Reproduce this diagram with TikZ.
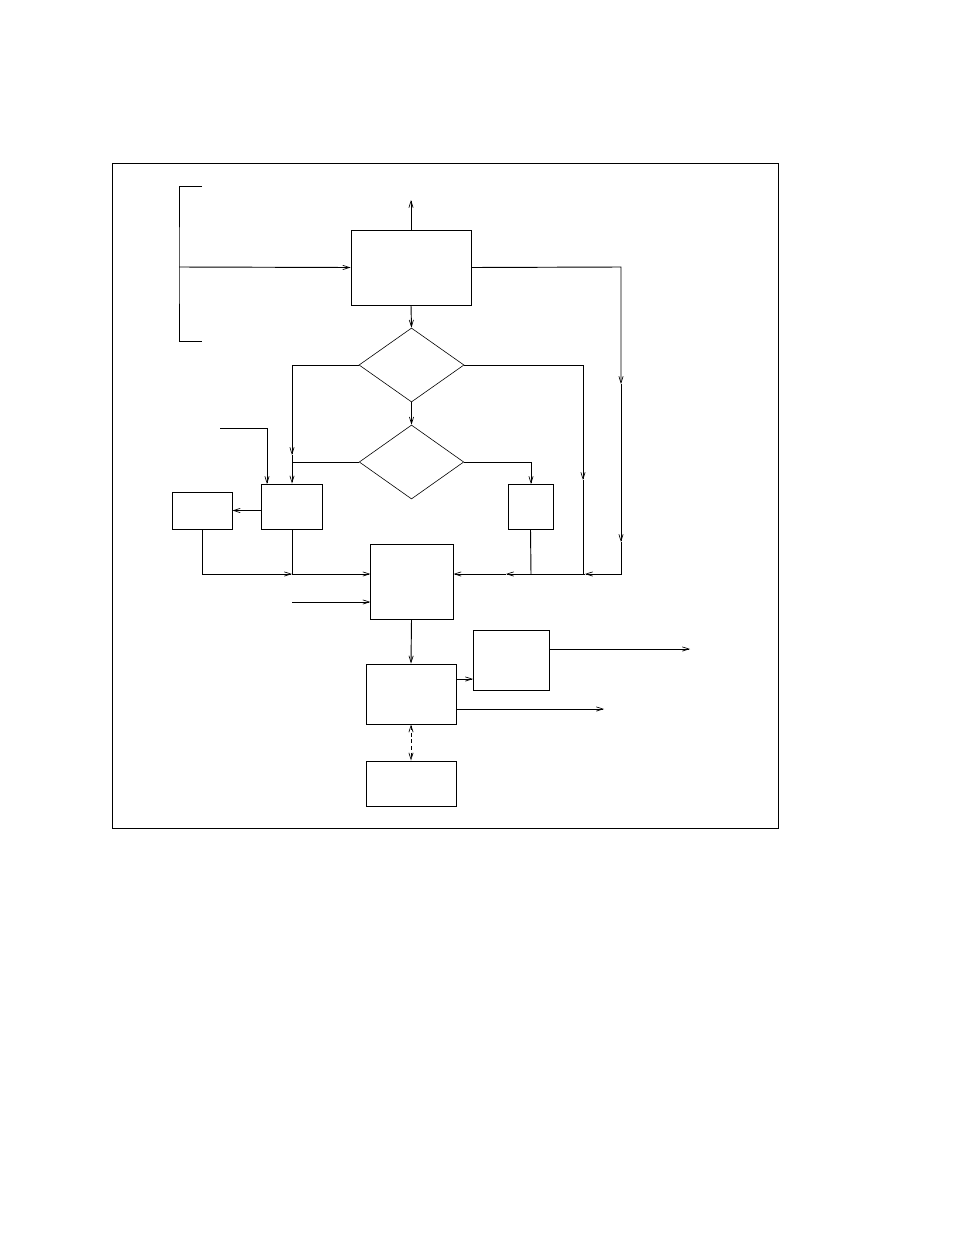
\documentclass[tikz,border=0pt]{standalone}
\usetikzlibrary{arrows.meta,shapes.geometric}
\begin{document}
\begin{tikzpicture}[x=0.75pt,y=-0.75pt,
  line width=0.7pt,
  >={Straight Barb[length=5pt,width=3.2pt,line width=0.5pt]},
  blk/.style={draw,rectangle,inner sep=0pt},
  dia/.style={draw,diamond,inner sep=0pt,line width=0.45pt}]
\useasboundingbox (0,0) rectangle (954,1235);
% frame
\draw[line width=0.6pt] (112,163) rectangle (778,828);
% nodes
\node[blk,minimum width=90pt,minimum height=56.25pt] (A) at (411,267.5) {};
\node[dia,minimum width=78.75pt,minimum height=55.5pt] (D1) at (411.5,365) {};
\node[dia,minimum width=78.4pt,minimum height=55.5pt] (D2) at (411.5,462) {};
\node[blk,minimum width=45.75pt,minimum height=33.75pt] (B) at (291.5,506.5) {};
\node[blk,minimum width=45pt,minimum height=27.75pt] (E) at (202,510.5) {};
\node[blk,minimum width=33.75pt,minimum height=33.75pt] (C) at (530.5,506.5) {};
\node[blk,minimum width=62.25pt,minimum height=56.25pt] (F) at (411.5,581.5) {};
\node[blk,minimum width=67.5pt,minimum height=45pt] (G) at (411,694) {};
\node[blk,minimum width=57pt,minimum height=45pt] (H) at (511,660) {};
\node[blk,minimum width=67.5pt,minimum height=33.75pt] (I) at (411,783.5) {};
% coordinates
\coordinate (brt) at (202,186);
\coordinate (brb) at (202,341);
\coordinate (brm) at (179,267);
\coordinate (Aout) at (411,200);
\coordinate (r1) at (621,267);
\coordinate (r2) at (621,384);
\coordinate (r3) at (621,542);
\coordinate (r4) at (621,574);
\coordinate (j1) at (585,574);
\coordinate (j2) at (506,574);
\coordinate (l1) at (292,365);
\coordinate (l2) at (292,455);
\coordinate (l3) at (292,462);
\coordinate (m1) at (583,365);
\coordinate (m2) at (583,480);
\coordinate (m3) at (583,574);
\coordinate (cin) at (531,484);
\coordinate (cout) at (531,574);
\coordinate (lin) at (220,428);
\coordinate (bin) at (267,484);
\coordinate (e1) at (202,574);
\coordinate (b1) at (292,574);
\coordinate (fl1) at (370.5,574);
\coordinate (fin2s) at (292,602);
\coordinate (fl2) at (370.5,602);
\coordinate (gh1) at (456,679);
\coordinate (gh2) at (473,679);
\coordinate (hout) at (690,649);
\coordinate (hs) at (549,649);
\coordinate (gs) at (456,709);
\coordinate (gout) at (604,709);
% bracket
\draw (brt) -| (brm) |- (brb);
\draw[->] (brm) -- (A.west);
\draw[->] (A.north) -- (Aout);
% right loop
\draw[->] (A.east) -- (r1) -- (r2);
\draw[->] (r2) -- (r3);
\draw[->] (r3) -- (r4) -- (j1);
\draw[->] (j1) -- (j2);
\draw[->] (j2) -- (F.east |- j2);
% centre column
\draw[->] (A.south) -- (D1.north);
\draw[->] (D1.south) -- (D2.north);
\draw[->] (D1.west) -- (l1) -- (l2);
\draw[->] (l2) -- (B.north -| l2);
\draw (D2.west) -- (l3);
\draw[->] (D1.east) -- (m1) -- (m2);
\draw (m2) -- (m3);
\draw[->] (D2.east) -| (cin);
\draw (C.south) -- (cout);
\draw[->] (lin) -| (bin);
\draw[->] (B.west |- E.east) -- (E.east);
\draw[->] (E.south) |- (b1);
\draw[->] (b1) -- (fl1);
\draw (B.south -| b1) -- (b1);
\draw[->] (fin2s) -- (fl2);
% lower part
\draw[->] (F.south) -- (G.north);
\draw[->] (gh1) -- (gh2);
\draw[->] (hs) -- (hout);
\draw[->] (gs) -- (gout);
\draw[<->,dashed,dash pattern=on 3pt off 2pt] (G.south) -- (I.north);
\end{tikzpicture}
\end{document}
